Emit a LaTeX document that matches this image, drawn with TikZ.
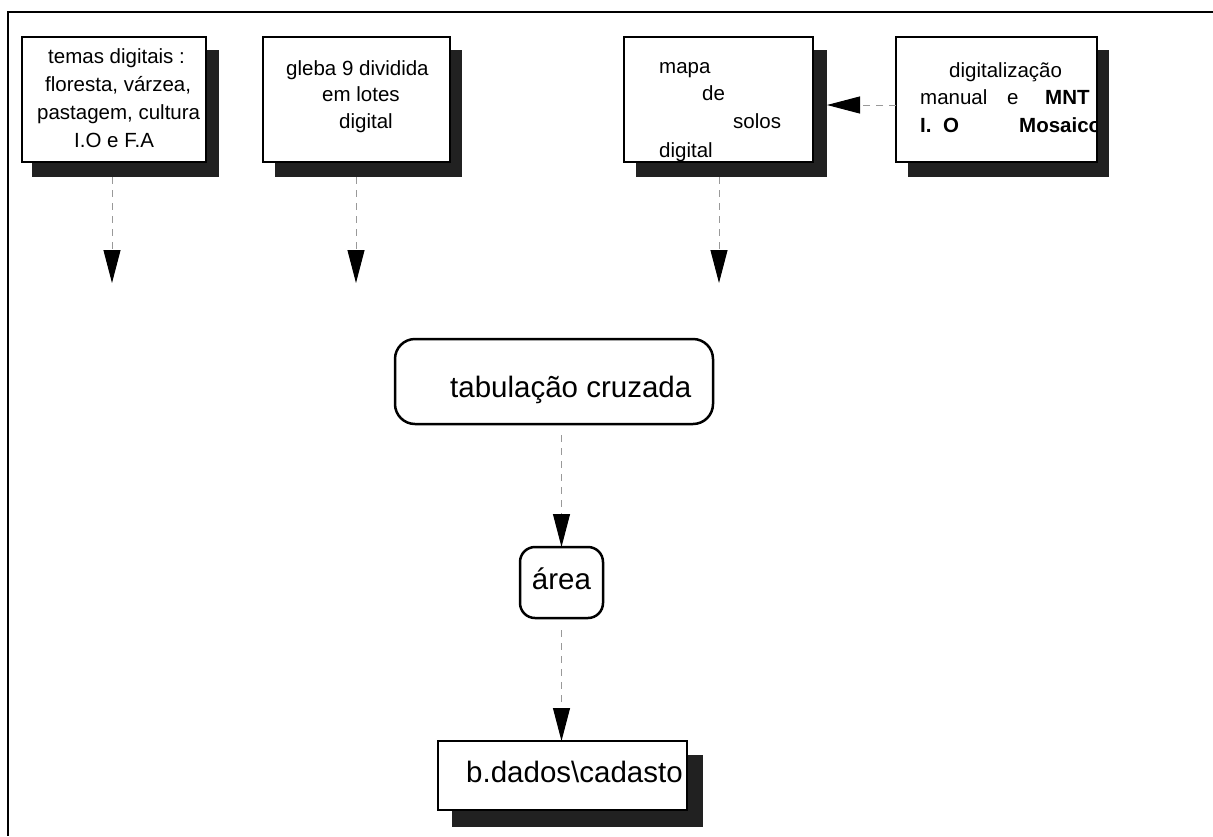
\documentclass[tikz,border=0pt]{standalone}
\usepackage{fontspec}
\setmainfont{Liberation Sans}
\usetikzlibrary{arrows.meta}
\begin{document}
\begin{tikzpicture}[x=1pt,y=-1pt,
  box/.style={draw=black, line width=2.5pt, fill=white, inner sep=0pt, outer sep=0pt},
  shade/.style={fill=black!87, draw=none, inner sep=0pt, outer sep=0pt},
  rbox/.style={draw=black, line width=2.5pt, fill=white, inner sep=0pt, outer sep=0pt},
  small/.style={font=\fontsize{20.5}{24}\selectfont, inner sep=0pt, anchor=base west},
  smallbf/.style={small, font=\fontsize{20.5}{24}\selectfont\bfseries},
  big/.style={font=\fontsize{29.5}{34}\selectfont, inner sep=0pt},
  flow/.style={draw=black!40, line width=1pt, dash pattern=on 7pt off 6pt,
    -{Triangle[length=33pt,width=17pt,black]}}
]
\useasboundingbox (0,0) rectangle (1213,836);
% frame
\draw[line width=2.5pt] (1213,12) -- (8,12) -- (8,836);

% box 1
\node[shade, minimum width=187pt, minimum height=127pt] (b1s) at (125.5,113.5) {};
\node[box, minimum width=184pt, minimum height=125pt] (b1) at (114,99.5) {};
\node[small] (t1a) at (48,63) {temas digitais :};
\node[small] (t1b) at (45,91) {floresta, várzea,};
\node[small] (t1c) at (37,119) {pastagem, cultura};
\node[small] (t1d) at (74,147) {I.O e F.A};

% box 2
\node[shade, minimum width=187pt, minimum height=127pt] (b2s) at (368.5,113.5) {};
\node[box, minimum width=187pt, minimum height=125pt] (b2) at (356.5,99.5) {};
\node[small] (t2a) at (286,75) {gleba 9 dividida};
\node[small] (t2b) at (322,101) {em lotes};
\node[small] (t2c) at (339,128) {digital};

% box 3
\node[shade, minimum width=191pt, minimum height=127pt] (b3s) at (731.5,113.5) {};
\node[box, minimum width=189pt, minimum height=125pt] (b3) at (718.5,99.5) {};
\node[small] (t3a) at (659,73) {mapa};
\node[small] (t3b) at (702,100) {de};
\node[small] (t3c) at (733,128) {solos};
\node[small] (t3d) at (659,157) {digital};

% box 4
\node[shade, minimum width=201pt, minimum height=127pt] (b4s) at (1008.5,113.5) {};
\node[box, minimum width=201pt, minimum height=125pt] (b4) at (996.5,99.5) {};
\begin{scope}
\clip ([shift={(1pt,1pt)}]b4.north west) rectangle ([shift={(-1.2pt,-1pt)}]b4.south east);
\node[small] (t4a) at (949,77) {digitalização};
\node[small] (t4b) at (920,104) {manual};
\node[small] (t4c) at (1007,104) {e};
\node[smallbf] (t4d) at (1045,104) {MNT};
\node[smallbf] (t4e) at (920,132) {I.};
\node[smallbf] (t4f) at (943,132) {O};
\node[smallbf] (t4g) at (1019,132) {Mosaico};
\end{scope}

% tabulacao
\node[rbox, rounded corners=20pt, minimum width=318pt, minimum height=85pt] (tab) at (554,381.5) {};
\node[big, anchor=base west] (tabt) at (450,397) {tabulação cruzada};

% area
\node[rbox, rounded corners=15pt, minimum width=83pt, minimum height=71pt] (area) at (561.5,582.5) {};
\node[big, anchor=base] (areat) at (561.5,589) {área};

% b.dados
\node[shade, minimum width=251pt, minimum height=72pt] (bds) at (577.5,791) {};
\node[box, minimum width=249pt, minimum height=69pt] (bd) at (562.5,775.5) {};
\node[big, anchor=base west] (bdt) at (466,782) {b.dados\textbackslash cadasto};

% connectors
\coordinate (e1) at (112,283);
\coordinate (e2) at (356,283);
\coordinate (e3) at (719,283);
\coordinate (hy) at (0,105);
\draw[flow] (b1s.south -| e1) -- (e1);
\draw[flow] (b2s.south -| e2) -- (e2);
\draw[flow] (b3s.south -| e3) -- (e3);
\draw[flow] (b4.west |- hy) -- (b3s.east |- hy);
\draw[flow, shorten <=11pt] (tab.south -| area.north) -- (area.north);
\draw[flow, shorten <=12pt] (area.south) -- (bd.north -| area.south);
\end{tikzpicture}
\end{document}
